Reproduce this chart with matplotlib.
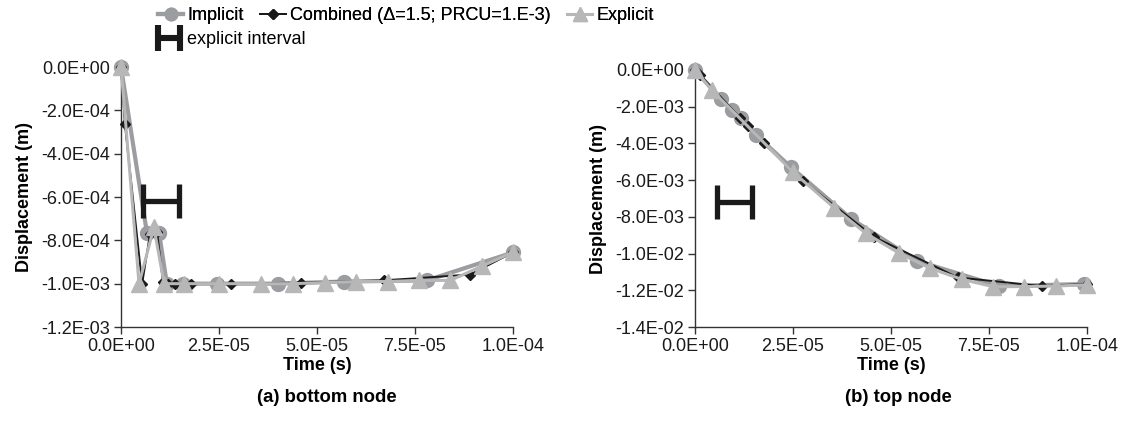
import matplotlib
matplotlib.use("Agg")
import matplotlib.pyplot as plt
from matplotlib.ticker import FuncFormatter, MultipleLocator
from matplotlib.lines import Line2D
from matplotlib.legend_handler import HandlerBase

plt.rcParams['font.family'] = ['Liberation Sans', 'DejaVu Sans']

# ---------------- data (bottom node) ----------------
a_imp_t = [0, 6.6e-6, 9.7e-6, 1.17e-5, 1.58e-5, 2.45e-5, 4.0e-5, 5.7e-5, 7.8e-5, 1.0e-4]
a_imp_y = [0, -0.764e-3, -0.764e-3, -1.0e-3, -1.0e-3, -1.0e-3, -1.0e-3, -0.99e-3, -0.985e-3, -0.856e-3]

a_comb_t = [0, 1.0e-6, 5.4e-6, 7.4e-6, 9.2e-6, 1.07e-5, 1.2e-5, 1.38e-5, 1.79e-5, 2.8e-5, 4.6e-5, 6.7e-5, 8.9e-5, 1.0e-4]
a_comb_y = [0, -0.264e-3, -1.0e-3, -0.77e-3, -0.76e-3, -0.99e-3, -1.0e-3, -1.0e-3, -1.0e-3, -1.0e-3, -0.995e-3, -0.985e-3, -0.958e-3, -0.856e-3]

a_exp_t = [0, 4.6e-6, 8.4e-6, 1.1e-5, 1.6e-5, 2.5e-5, 3.57e-5, 4.4e-5, 5.2e-5, 6.0e-5, 6.8e-5, 7.6e-5, 8.4e-5, 9.2e-5, 1.0e-4]
a_exp_y = [0, -1.0e-3, -0.74e-3, -1.0e-3, -1.0e-3, -1.0e-3, -1.0e-3, -1.0e-3, -0.995e-3, -0.99e-3, -0.99e-3, -0.985e-3, -0.985e-3, -0.92e-3, -0.855e-3]

a_interval_t = [5.6e-6, 1.48e-5]
a_interval_y = -0.62e-3

# ---------------- data (top node) ----------------
b_imp_t = [0, 6.6e-6, 9.4e-6, 1.17e-5, 1.56e-5, 2.45e-5, 3.98e-5, 5.66e-5, 7.76e-5, 9.92e-5]
b_imp_y = [0, -1.58e-3, -2.18e-3, -2.6e-3, -3.54e-3, -5.3e-3, -8.1e-3, -10.4e-3, -11.77e-3, -11.66e-3]

b_comb_t = [0, 1.3e-6, 1.15e-5, 1.35e-5, 1.76e-5, 2.76e-5, 4.57e-5, 6.7e-5, 8.85e-5, 1.0e-4]
b_comb_y = [0, -0.27e-3, -2.6e-3, -3.05e-3, -4.0e-3, -6.05e-3, -9.1e-3, -11.3e-3, -11.77e-3, -11.65e-3]

b_exp_t = [0, 4.3e-6, 2.5e-5, 3.55e-5, 4.36e-5, 5.2e-5, 6.0e-5, 6.8e-5, 7.6e-5, 8.4e-5, 9.2e-5, 1.0e-4]
b_exp_y = [0, -1.09e-3, -5.56e-3, -7.5e-3, -8.9e-3, -9.97e-3, -10.8e-3, -11.4e-3, -11.8e-3, -11.8e-3, -11.77e-3, -11.7e-3]

b_interval_t = [5.6e-6, 1.45e-5]
b_interval_y = -7.19e-3

x_ticks = [0, 2.5e-5, 5.0e-5, 7.5e-5, 1.0e-4]
subtitles = ["(a) bottom node", "(b) top node"]
legend_labels = ["Implicit", "Combined (\u0394=1.5; PRCU=1.E-3)", "Explicit", "explicit interval"]

C_IMP = '#9b9da0'
C_EXP = '#b7b7b7'
C_COMB = '#1a1a1a'
FS = 13


def sci(v, pos=None):
    if abs(v) < 1e-15:
        return "0.0E+00"
    return f"{v:.1E}"


class HandlerH(HandlerBase):
    def create_artists(self, legend, orig_handle, xdescent, ydescent, width, height,
                       fontsize, trans):
        x0 = -xdescent
        x1 = x0 + width
        yc = -ydescent + height / 2
        hh = 0.72 * fontsize
        kw = dict(color='#1a1a1a', lw=4.4, solid_capstyle='butt', transform=trans)
        return [Line2D([x0, x1], [yc, yc], **kw),
                Line2D([x0, x0], [yc - hh, yc + hh], **kw),
                Line2D([x1, x1], [yc - hh, yc + hh], **kw)]


fig = plt.figure(figsize=(11.28, 4.30), dpi=100)
ax1 = fig.add_axes([121/1128, 1-327/430, 392/1128, 260/430])
ax2 = fig.add_axes([695/1128, 1-327/430, 392/1128, 257/430])


def draw(ax, it, iy, ct, cy, et, ey, itv, ity, ylo, ystep, sub, xc):
    ax.plot(it, iy, color=C_IMP, lw=3, marker='o', ms=10, mec=C_IMP, mfc=C_IMP,
            zorder=3, clip_on=False)
    ax.plot(ct, cy, color=C_COMB, lw=1.4, marker='D', ms=5.5, mec=C_COMB, mfc=C_COMB,
            zorder=4, clip_on=False)
    ax.plot(et, ey, color=C_EXP, lw=2.2, marker='^', ms=11, mec=C_EXP, mfc=C_EXP,
            zorder=5, clip_on=False)
    mid = (itv[0] + itv[1]) / 2
    half = (itv[1] - itv[0]) / 2
    ax.errorbar([mid], [ity], xerr=[half], fmt='none', ecolor='#1a1a1a',
                elinewidth=3.8, capsize=12.5, capthick=3.8, zorder=6)
    ax.set_xlim(0, 1.0e-4)
    ax.set_ylim(ylo, 0)
    ax.set_xticks(x_ticks)
    ax.yaxis.set_major_locator(MultipleLocator(ystep))
    ax.xaxis.set_major_formatter(FuncFormatter(sci))
    ax.yaxis.set_major_formatter(FuncFormatter(sci))
    for s in ['top', 'right']:
        ax.spines[s].set_visible(False)
    for s in ['left', 'bottom']:
        ax.spines[s].set_color('#333333')
        ax.spines[s].set_linewidth(1.0)
    ax.tick_params(axis='both', labelsize=FS, colors='#333333', labelcolor='#1a1a1a',
                   length=5, width=1.0, direction='out', pad=3)
    ax.set_xlabel("Time (s)", fontsize=FS, fontweight='bold', labelpad=1)
    ax.set_ylabel("Displacement (m)", fontsize=FS, fontweight='bold', labelpad=6)
    fig.text(xc, 1-398/430, sub, ha='center', va='center', fontsize=13.3, fontweight='bold')


draw(ax1, a_imp_t, a_imp_y, a_comb_t, a_comb_y, a_exp_t, a_exp_y,
     a_interval_t, a_interval_y, -1.2e-3, 2e-4, subtitles[0], 327/1128)
draw(ax2, b_imp_t, b_imp_y, b_comb_t, b_comb_y, b_exp_t, b_exp_y,
     b_interval_t, b_interval_y, -1.4e-2, 2e-3, subtitles[1], 898/1128)

h_imp = Line2D([], [], color=C_IMP, lw=3, marker='o', ms=9, mfc=C_IMP, mec=C_IMP)
h_comb = Line2D([], [], color=C_COMB, lw=1.4, marker='D', ms=5, mfc=C_COMB, mec=C_COMB)
h_exp = Line2D([], [], color=C_EXP, lw=2.2, marker='^', ms=10, mfc=C_EXP, mec=C_EXP)
leg1 = fig.legend([h_imp, h_comb, h_exp], legend_labels[:3],
                  loc='center left', bbox_to_anchor=(158/1128, 1-16/430), ncol=3,
                  frameon=False, fontsize=FS, handlelength=1.4, handletextpad=0.25,
                  columnspacing=0.9, borderpad=0, borderaxespad=0)
fig.add_artist(leg1)
h_int = Line2D([], [])
leg2 = fig.legend([h_int], legend_labels[3:], loc='center left',
                  bbox_to_anchor=(158/1128, 1-40/430), frameon=False, fontsize=FS,
                  handlelength=1.2, handletextpad=0.4, borderpad=0, borderaxespad=0,
                  handler_map={h_int: HandlerH()})

fig.savefig("out.png", dpi=100)
